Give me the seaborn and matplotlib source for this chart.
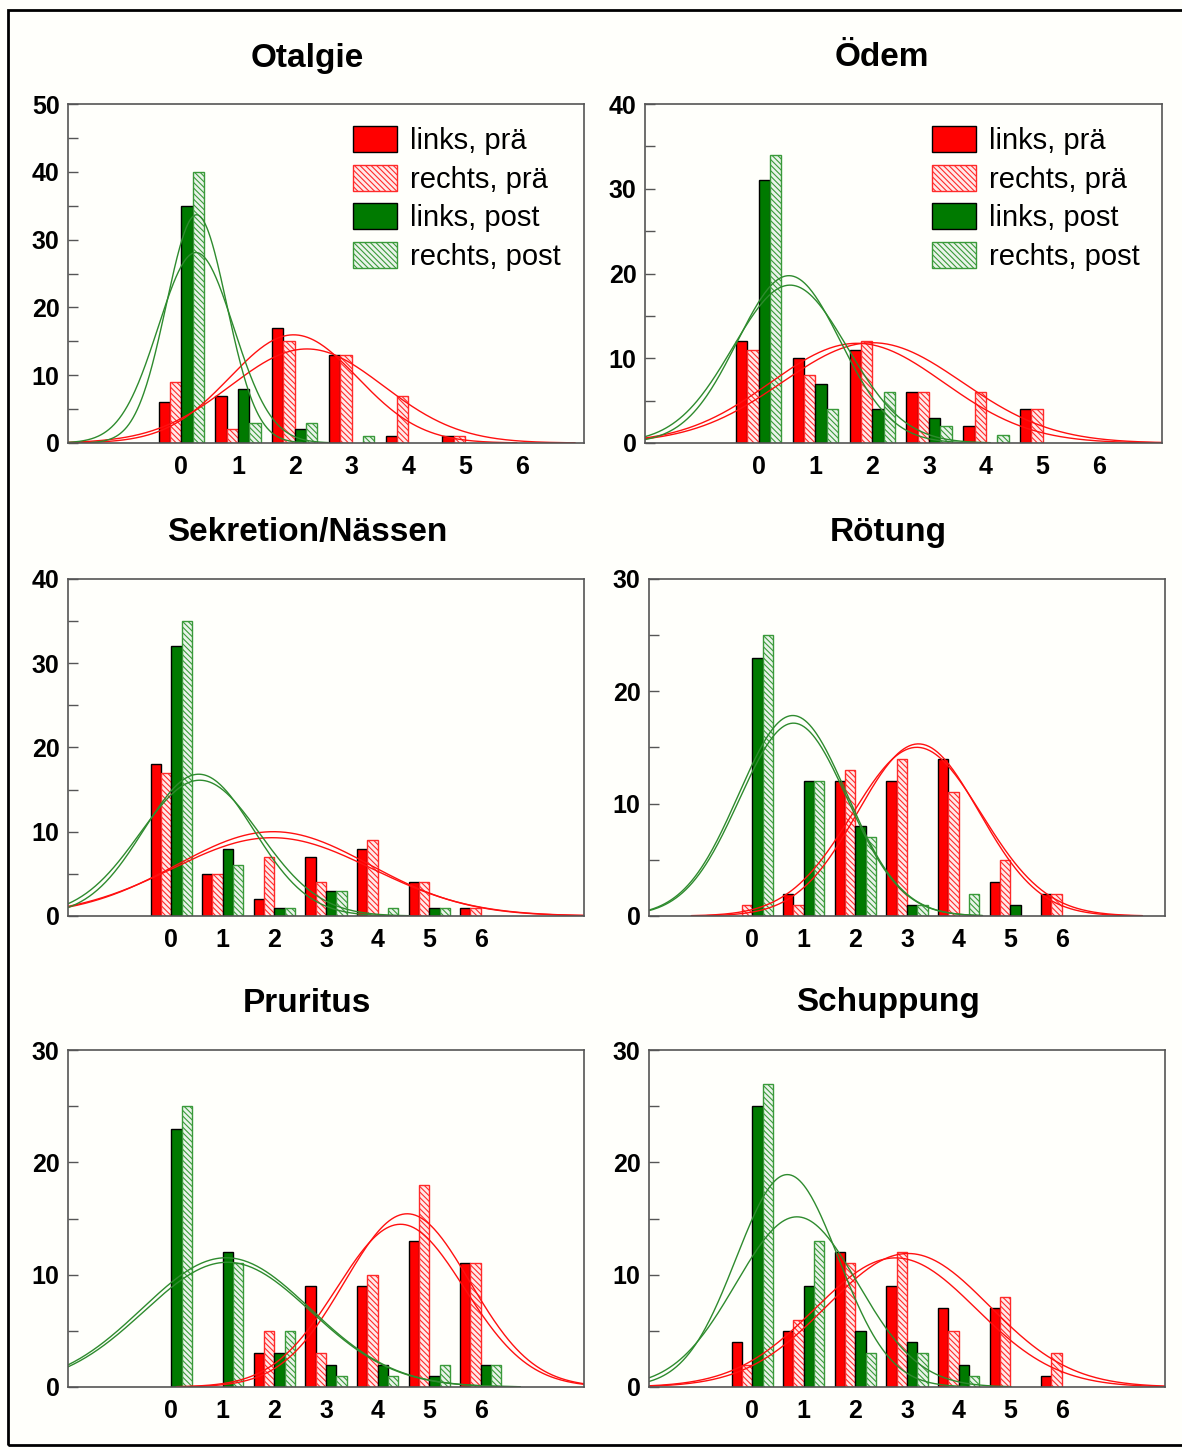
import numpy as np
import pandas as pd
import matplotlib
matplotlib.use('Agg')
import matplotlib.pyplot as plt
from matplotlib.patches import Patch, Rectangle
from matplotlib.ticker import MultipleLocator
import seaborn as sns

sns.set_theme(style='white')
plt.rcParams['font.family'] = ['Liberation Sans', 'DejaVu Sans']
plt.rcParams['font.weight'] = 'bold'
plt.rcParams['text.color'] = 'black'
plt.rcParams['xtick.color'] = 'black'
plt.rcParams['ytick.color'] = 'black'
plt.rcParams['hatch.linewidth'] = 0.8

# score values on the x axis and the four series per panel
scores = [0, 1, 2, 3, 4, 5, 6]
series = ['links, prä', 'rechts, prä', 'links, post', 'rechts, post']
titles = ['Otalgie', 'Ödem', 'Sekretion/Nässen', 'Rötung', 'Pruritus', 'Schuppung']

# counts per score, rows in the order of `series`
otalgie = [[6, 7, 17, 13, 1, 1, 0],
           [9, 2, 15, 13, 7, 1, 0],
           [35, 8, 2, 0, 0, 0, 0],
           [40, 3, 3, 1, 0, 0, 0]]
oedem = [[12, 10, 11, 6, 2, 4, 0],
         [11, 8, 12, 6, 6, 4, 0],
         [31, 7, 4, 3, 0, 0, 0],
         [34, 4, 6, 2, 1, 0, 0]]
sekretion = [[18, 5, 2, 7, 8, 4, 1],
             [17, 5, 7, 4, 9, 4, 1],
             [32, 8, 1, 3, 0, 1, 0],
             [35, 6, 1, 3, 1, 1, 0]]
roetung = [[0, 2, 12, 12, 14, 3, 2],
           [1, 1, 13, 14, 11, 5, 2],
           [23, 12, 8, 1, 0, 1, 0],
           [25, 12, 7, 1, 2, 0, 0]]
pruritus = [[0, 0, 3, 9, 9, 13, 11],
            [0, 0, 5, 3, 10, 18, 11],
            [23, 12, 3, 2, 2, 1, 2],
            [25, 11, 5, 1, 1, 2, 2]]
schuppung = [[4, 5, 12, 9, 7, 7, 1],
             [2, 6, 11, 12, 5, 8, 3],
             [25, 9, 5, 4, 2, 0, 0],
             [27, 13, 3, 3, 1, 0, 0]]

panels = [otalgie, oedem, sekretion, roetung, pruritus, schuppung]
y_max = [50, 40, 40, 30, 30, 30]
x_max = [7.1, 7.1, 8, 8, 8, 8]

bar_face = ['#FF0000', '#FFEAEA', '#007A00', '#EAF4EA']
bar_edge = ['#000000', '#FF2A2A', '#000000', '#3A9A3A']
bar_hatch = [None, '\\\\\\\\\\\\', None, '\\\\\\\\\\\\']
curve_col = ['#FF1010', '#FF1010', '#2E8B2E', '#2E8B2E']

W, H = 1182, 1450
# axes boxes in pixels: left, top, right, bottom
boxes = [(68, 104, 584, 443), (645, 104, 1162, 443),
         (68, 579, 584, 916), (649, 579, 1165, 916),
         (68, 1050, 584, 1387), (649, 1050, 1165, 1387)]
title_pos = [(307, 58), (882, 58), (307, 532), (888, 532), (307, 1003), (888, 1003)]

bg = '#FFFFFB'
fig = plt.figure(figsize=(W / 100, H / 100), dpi=100, facecolor=bg)


def draw_panel(ax, counts, ymax, xmax):
    df = pd.DataFrame({'score': np.tile(scores, len(series)),
                       'count': np.concatenate(counts),
                       'series': np.repeat(series, len(scores))})
    sns.barplot(data=df, x='score', y='count', hue='series', hue_order=series,
                order=scores, width=0.8, errorbar=None, legend=False,
                palette=bar_face, saturation=1, ax=ax)
    for cont, fc, ec, hh in zip(ax.containers, bar_face, bar_edge, bar_hatch):
        for bar in cont:
            bar.set_facecolor(fc)
            bar.set_edgecolor(ec)
            bar.set_hatch(hh)
            bar.set_linewidth(1.0)
            if bar.get_height() == 0:
                bar.set_visible(False)

    # fitted normal curves, scaled to the number of cases
    x = np.array(scores, dtype=float)
    for c, col in zip(counts, curve_col):
        c = np.array(c, dtype=float)
        n = c.sum()
        mu = (c * x).sum() / n
        sd = np.sqrt((c * (x - mu) ** 2).sum() / n)
        xs = np.linspace(max(-2, mu - 3.5 * sd), min(xmax, mu + 3.5 * sd), 300)
        ys = n * np.exp(-0.5 * ((xs - mu) / sd) ** 2) / (sd * np.sqrt(2 * np.pi))
        ax.plot(xs, ys, color=col, lw=1.0)

    ax.set_facecolor(bg)
    ax.set_xlim(-2, xmax)
    ax.set_ylim(0, ymax)
    ax.set_xlabel('')
    ax.set_ylabel('')
    ax.yaxis.set_major_locator(MultipleLocator(10))
    ax.yaxis.set_minor_locator(MultipleLocator(5))
    ax.tick_params(axis='y', which='both', direction='in', length=7, width=1,
                   color='#555555', left=True, labelsize=18, pad=6,
                   labelcolor='black')
    ax.tick_params(axis='x', length=0, labelsize=18, pad=9, labelcolor='black')
    for sp in ax.spines.values():
        sp.set_color('#555555')
        sp.set_linewidth(1.2)


for i, counts in enumerate(panels):
    l, t, r, b = boxes[i]
    ax = fig.add_axes([l / W, 1 - b / H, (r - l) / W, (b - t) / H])
    draw_panel(ax, counts, y_max[i], x_max[i])
    tx, ty = title_pos[i]
    fig.text(tx / W, 1 - ty / H, titles[i], ha='center', va='center',
             fontsize=24, fontweight='bold', color='black')
    if i < 2:
        handles = [Patch(facecolor=fc, edgecolor=ec, hatch=hh, linewidth=1.0, label=lab)
                   for fc, ec, hh, lab in zip(bar_face, bar_edge, bar_hatch, series)]
        x0 = (353 - l) / (r - l) if i == 0 else (932 - l) / (r - l)
        ax.legend(handles=handles, loc='upper left', bbox_to_anchor=(x0, 0.935),
                  frameon=False, borderpad=0, borderaxespad=0,
                  handlelength=1.5, handleheight=1.0, handletextpad=0.45,
                  labelspacing=0.33, prop={'size': 21, 'weight': 'normal'})

fig.patches.append(Rectangle((8 / W, 1 - 1445 / H), (1190 - 8) / W, (1445 - 10) / H,
                             transform=fig.transFigure, fill=False,
                             edgecolor='black', linewidth=2))

fig.savefig('out.png', dpi=100, facecolor=bg)
